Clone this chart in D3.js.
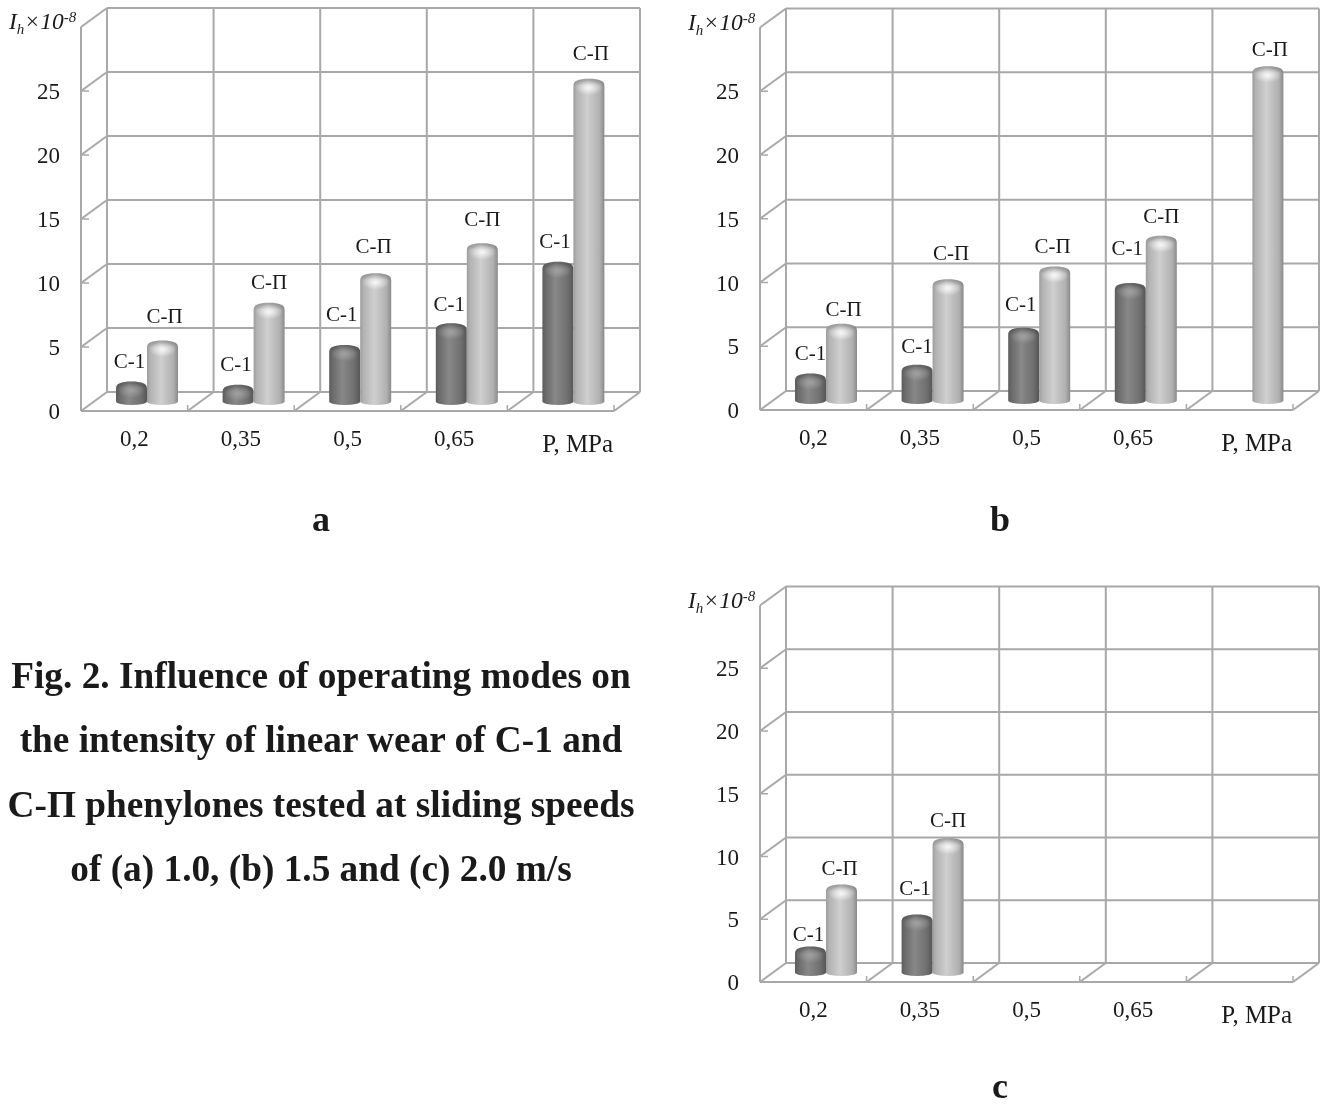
<!DOCTYPE html>
<html><head><meta charset="utf-8">
<script src="https://cdnjs.cloudflare.com/ajax/libs/d3/7.8.5/d3.min.js"></script>
<style>html,body{margin:0;padding:0;background:#fff}svg{display:block;filter:blur(.4px)}
text{font-family:"Liberation Serif","Times New Roman",serif;fill:#1a1a1a}</style>
</head><body><svg id="c" width="1327" height="1106"></svg>
<script>
const categories = ["0,2","0,35","0,5","0,65","P, MPa"];
const yTicks = [0,5,10,15,20,25];
const seriesNames = ["С-1","С-П"];
const c1A = [1.25,1.0,4.1,5.8,10.6];
const cpA = [4.45,7.4,9.7,12.05,24.9];
const c1B = [1.8,2.5,5.4,8.9,null];
const cpB = [5.7,9.2,10.2,12.6,25.9];
const c1C = [1.75,4.3,null,null,null];
const cpC = [6.7,10.4,null,null,null];
const captionLines = ["Fig. 2. Influence of operating modes on","the intensity of linear wear of C-1 and","C-П phenylones tested at sliding speeds","of (a) 1.0, (b) 1.5 and (c) 2.0 m/s"];

// label nudges (layout only): px above the bar top, px sideways
const liftA = [[22,22,32,20,22],[26,22,28,25,27]];
const liftB = [[22,20,25,36,0],[16,27,21,21,18]];
const liftC = [[14,28,0,0,0],[17,19,0,0,0]];
const shiftA = [[1,1,0,1,0],[2,0,-2,0,2]];
const shiftB = [[3,3,0,0,0],[2,3,-2,0,2]];
const shiftC = [[1,1,0,0,0],[-2,0,0,0,0]];

const svg = d3.select("#c");
const defs = svg.append("defs");
function grad(id, stops){
  const g = defs.append("linearGradient").attr("id",id);
  stops.forEach(s=>g.append("stop").attr("offset",s[0]).attr("stop-color",s[1]));
}
grad("darkBody",[[0,"#5c5c5c"],[.1,"#6a6a6a"],[.42,"#888888"],[.8,"#707070"],[1,"#565656"]]);
grad("lightBody",[[0,"#9c9c9c"],[.1,"#b2b2b2"],[.45,"#cfcfcf"],[.85,"#b0b0b0"],[1,"#8a8a8a"]]);
function hl(id,col,op){
  const g = defs.append("radialGradient").attr("id",id);
  g.append("stop").attr("offset",0).attr("stop-color",col).attr("stop-opacity",op);
  g.append("stop").attr("offset",1).attr("stop-color",col).attr("stop-opacity",0);
}
hl("darkHi","#a8a8a8",.8);
hl("lightHi","#ffffff",.85);
const rim = defs.append("linearGradient").attr("id","rim").attr("x1",0).attr("x2",0).attr("y1",0).attr("y2",1);
rim.append("stop").attr("offset",0).attr("stop-color","#000").attr("stop-opacity",.22);
rim.append("stop").attr("offset",1).attr("stop-color","#000").attr("stop-opacity",0);

const gridColor = "#a8a8a8";
const serif = "'Liberation Serif',serif";
function panel(o){
  const g = svg.append("g");
  const depthX = 26, depthY = 19;
  const yFront = d3.scaleLinear().domain([0,30]).range([o.floor,o.floor-o.unit*30]);
  const xFront = d3.scaleBand().domain(categories).range([o.left,o.left+533]);
  const gl = g.append("g").attr("stroke",gridColor).attr("stroke-width",2).attr("fill","none");
  yTicks.concat([30]).forEach(v=>{
    const y=yFront(v);
    gl.append("line").attr("x1",o.left+depthX).attr("x2",o.left+depthX+533).attr("y1",y-depthY).attr("y2",y-depthY);
    gl.append("line").attr("x1",o.left).attr("x2",o.left+depthX).attr("y1",y).attr("y2",y-depthY);
    if(v<30) gl.append("line").attr("x1",o.left).attr("x2",o.left+8).attr("y1",y).attr("y2",y).attr("stroke-width",1.5);
  });
  categories.forEach(c=>{
    const x = xFront(c);
    gl.append("line").attr("x1",x+depthX).attr("x2",x+depthX).attr("y1",yFront(30)-depthY).attr("y2",yFront(0)-depthY);
  });
  const xEnd = o.left+533;
  gl.append("line").attr("x1",xEnd+depthX).attr("x2",xEnd+depthX).attr("y1",yFront(30)-depthY).attr("y2",yFront(0)-depthY);
  categories.concat(["end"]).forEach((c,i)=>{
    const x = c==="end"?xEnd:xFront(c);
    if(i>0){
      gl.append("line").attr("x1",x).attr("x2",x+depthX).attr("y1",yFront(0)).attr("y2",yFront(0)-depthY);
      gl.append("line").attr("x1",x).attr("x2",x).attr("y1",yFront(0)).attr("y2",yFront(0)-6).attr("stroke-width",1.5);
    }
  });
  gl.append("line").attr("x1",o.left).attr("x2",o.left).attr("y1",yFront(30)).attr("y2",yFront(0));
  gl.append("line").attr("x1",o.left).attr("x2",xEnd).attr("y1",yFront(0)).attr("y2",yFront(0));

  // axis labels
  const ya = g.append("g").attr("transform",`translate(${o.left},0)`)
    .call(d3.axisLeft(yFront).tickValues(yTicks).tickSize(0).tickPadding(21));
  ya.select(".domain").remove();
  ya.selectAll("text").style("font-size","23px").style("font-family",serif).attr("fill","#1a1a1a").attr("dy",".33em");
  const xa = g.append("g").attr("transform",`translate(0,${o.floor})`)
    .call(d3.axisBottom(xFront).tickSize(0).tickPadding(19));
  xa.select(".domain").remove();
  xa.selectAll("text").style("font-size","23px").style("font-family",serif).attr("fill","#1a1a1a");
  xa.selectAll(".tick").filter(d=>d==="P, MPa").select("text")
    .attr("dx",17).attr("dy","22px").style("font-size","25px");

  // axis title
  const tt = g.append("text").attr("x",o.left-72).attr("y",yFront(30)+2)
    .style("font-size","23.5px").style("font-style","italic");
  tt.append("tspan").text("I");
  tt.append("tspan").text("h").attr("dy",5).style("font-size","15px");
  tt.append("tspan").text("×10").attr("dy",-5);
  tt.append("tspan").text("-8").attr("dy",-7).style("font-size","15px");

  // bars
  const inner = d3.scaleBand().domain(seriesNames).range([35,97]);
  const w = inner.bandwidth();
  const yBase = o.floor-9.5;
  const h = v => yFront(v)-yFront(0);
  const draw = (vals,name,body,hi,lift,shift) => {
    vals.forEach((v,i)=>{
      if(v==null) return;
      const x = xFront(categories[i])+inner(name);
      const yt = yBase + h(v), yb = yBase, r = w/2;
      const cap = `M${x},${yt+3} C${x},${yt-2} ${x+5},${yt-4} ${x+r},${yt-4} C${x+w-5},${yt-4} ${x+w},${yt-2} ${x+w},${yt+3}`;
      g.append("path").attr("d",`${cap} L${x+w},${yb} A${r},3.5 0 0 1 ${x},${yb} Z`)
        .attr("fill",`url(#${body})`);
      g.append("path").attr("d",`${cap} Q${x+r},${yt+1} ${x},${yt+3} Z`).attr("fill","url(#rim)");
      g.append("ellipse").attr("cx",x+r).attr("cy",yt+5).attr("rx",r-2).attr("ry",7.5)
        .attr("fill",`url(#${hi})`);
      g.append("text").attr("x",x+r-(name===seriesNames[0]?3:0)+shift[i]).attr("y",yt-lift[i]+4)
        .attr("text-anchor","middle").style("font-size","21px").text(name);
    });
  };
  draw(o.c1,seriesNames[0],"darkBody","darkHi",o.lift[0],o.shift[0]);
  draw(o.cp,seriesNames[1],"lightBody","lightHi",o.lift[1],o.shift[1]);
}
panel({left:81,floor:411,unit:12.8,c1:c1A,cp:cpA,lift:liftA,shift:shiftA});
panel({left:760,floor:410,unit:12.75,c1:c1B,cp:cpB,lift:liftB,shift:shiftB});
panel({left:760,floor:982,unit:12.55,c1:c1C,cp:cpC,lift:liftC,shift:shiftC});

// panel letters + caption
const letters = [["a",321,531],["b",1000,531],["c",1000,1098]];
svg.selectAll("text.letter").data(letters).enter().append("text").attr("class","letter")
  .attr("x",d=>d[1]).attr("y",d=>d[2]).attr("text-anchor","middle")
  .style("font-size","36px").style("font-weight","bold").text(d=>d[0]);
svg.selectAll("text.cap").data(captionLines).enter().append("text").attr("class","cap")
  .attr("x",321).attr("y",(d,i)=>688+i*64.4).attr("text-anchor","middle")
  .style("font-size","37.3px").style("font-weight","bold").text(d=>d);
</script></body></html>
